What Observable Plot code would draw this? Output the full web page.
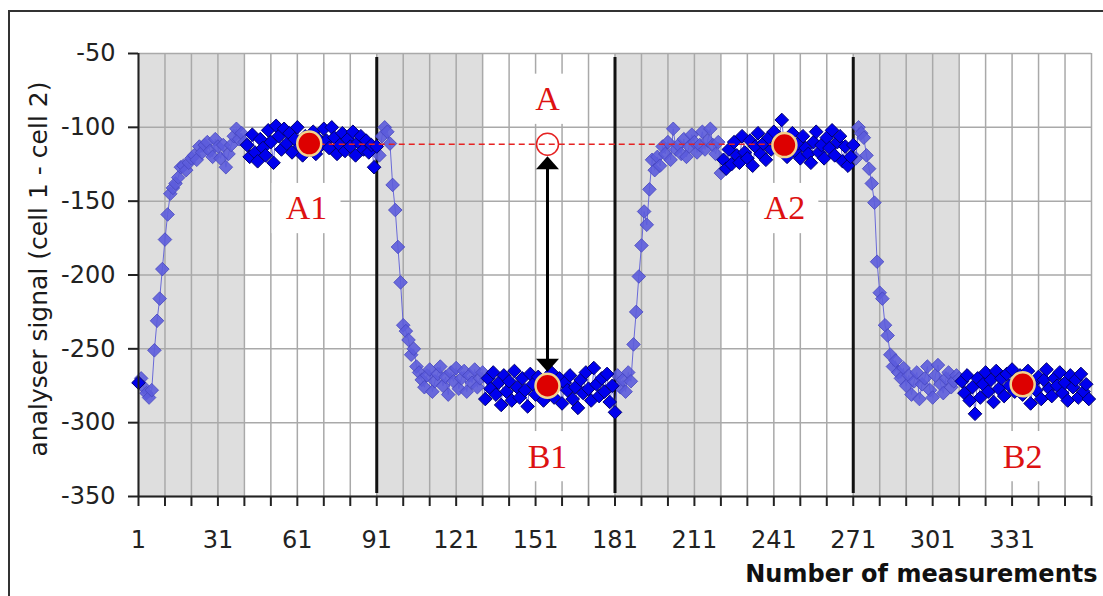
<!DOCTYPE html>
<html><head><meta charset="utf-8">
<script src="https://cdn.jsdelivr.net/npm/d3@7"></script>
<script src="https://cdn.jsdelivr.net/npm/@observablehq/plot@0.6"></script>
<style>
html,body{margin:0;padding:0;background:#fff;overflow:hidden;}
#wrap{position:relative;width:1103px;height:596px;}
#frame{position:absolute;left:8px;top:10px;width:1200px;height:700px;border:2px solid #333;box-sizing:border-box;}
#chart{position:absolute;left:0;top:0;}
</style></head><body>
<div id="wrap"><div id="frame"></div><div id="chart"></div></div>
<script>
// ---- data (analyser signal per measurement) ----
const rise1 = [-273,-270,-276,-280,-283,-278,-251,-231,-216,-196,
  -176,-159,-145,-141,-138,-134,-127,-126,-129,-124,
  -121,-119,-122,-113,-117,-112,-110,-116,-120,-108,
  -113,-121,-112,-127,-118,-112,-106,-101,-108,-104,
  -110];
const high1 = [-112,-120,-105,-117,-123,-108,-114,-119,-102,
  -110,-124,-99,-106,-115,-101,-111,-104,-117,-108,
  -100,-113,-119,-106,-110,-115,-103,-118,-108,-112,
  -101,-109,-114,-100,-107,-118,-112,-104,-116,-108,
  -113,-103,-119,-110,-106,-115,-109,-117,-112,-127];
const fall1 = [-113,-119,-106,-100,-103,-111,-139,-156,-181,-205,
  -234,-238,-244,-254,-250,-262,-266,-271,-276,-268,
  -264,-279,-272,-267,-262,-275,-269,-281,-266,-272,
  -263,-277,-270,-265,-279,-268,-273,-264,-276,-270,
  -266];
const low1 = [-284,-270,-277,-266,-281,-273,-288,-268,-279,
  -272,-285,-265,-276,-283,-270,-278,-289,-267,-274,
  -281,-269,-277,-285,-272,-279,-266,-283,-275,-270,
  -287,-273,-278,-268,-284,-276,-290,-271,-280,-266,
  -277,-285,-263,-274,-282,-270,-279,-267,-286,-275];
const rise2 = [-293,-268,-276,-271,-279,-266,-272,-247,-225,-201,
  -180,-157,-166,-142,-122,-129,-120,-126,-113,-118,
  -110,-122,-101,-115,-112,-118,-108,-120,-113,-105,
  -110,-117,-112,-103,-115,-109,-101,-112,-118,-110,
  -131];
const high2 = [-122,-128,-115,-125,-110,-119,-124,-106,-117,
  -121,-109,-126,-113,-104,-118,-111,-122,-107,-115,
  -103,-112,-108,-95,-113,-120,-109,-104,-116,-111,
  -121,-106,-114,-118,-124,-110,-103,-117,-112,-121,
  -107,-114,-102,-119,-110,-106,-123,-113,-126,-120];
const fall2 = [-112,-121,-100,-104,-107,-119,-128,-138,-151,-191,
  -212,-216,-234,-241,-254,-262,-258,-266,-270,-263,
  -275,-268,-281,-272,-266,-284,-274,-270,-262,-278,
  -283,-268,-261,-274,-280,-270,-266,-276,-272,-268,
  -270];
const low2 = [-272,-280,-268,-285,-276,-294,-270,-283,-274,
  -266,-279,-271,-286,-265,-277,-270,-282,-267,-275,
  -264,-279,-272,-268,-281,-276,-265,-287,-273,-278,
  -269,-284,-271,-264,-277,-282,-270,-275,-266,-280,
  -273,-285,-268,-276,-271,-283,-267,-279,-274,-284];

// shaded (transient) ranges and switching points
const bands = [[1,41],[91,131],[181,221],[271,311]];
const switches = [91,181,271];

// axis ticks
const xDomain = [1,361];
const yDomain = [-350,-50];
const xGridTicks = [1,11,21,31,41,51,61,71,81,91,101,111,121,131,141,151,161,171,181,191,201,211,221,231,241,251,261,271,281,291,301,311,321,331,341,351,361];
const xLabels = [1,31,61,91,121,151,181,211,241,271,301,331];
const yTicks = [-350,-300,-250,-200,-150,-100,-50];

// mean values (red circles) and labels
const means = [
  {name:"A1", m:65.5, v:-111},
  {name:"B1", m:155.5, v:-275},
  {name:"A2", m:245, v:-112},
  {name:"B2", m:335, v:-274}
];
const labels = [
  {text:"A", m:155.5, v:-81},
  {text:"A1", m:64.5, v:-155},
  {text:"A2", m:245, v:-155},
  {text:"B1", m:155.5, v:-323},
  {text:"B2", m:335, v:-323}
];

const signal = [].concat(rise1, high1, fall1, low1, rise2, high2, fall2, low2);
const data = signal.map((v, i) => {
  const m = i + 1;
  const transient = bands.some(([a, b]) => m > a && m <= b);
  return {m, v, transient};
});
const A1 = means[0], B1 = means[1], A2 = means[2];
const level = d3.mean([A1.v, A2.v]);

const diamond = {draw(ctx, size) { const h = Math.sqrt(size / Math.PI); ctx.moveTo(0,-h); ctx.lineTo(h,0); ctx.lineTo(0,h); ctx.lineTo(-h,0); ctx.closePath(); }};
const headUp = {draw(ctx) { ctx.moveTo(0,12); ctx.lineTo(-11.5,25); ctx.lineTo(11.5,25); ctx.closePath(); }};
const headDown = {draw(ctx) { ctx.moveTo(0,-14); ctx.lineTo(-11.5,-27); ctx.lineTo(11.5,-27); ctx.closePath(); }};

const chart = Plot.plot({
  width: 1103, height: 596,
  marginLeft: 138, marginRight: 12, marginTop: 53, marginBottom: 100,
  x: {domain: xDomain, label: null},
  y: {domain: yDomain, label: null},
  style: {fontFamily: "'DejaVu Sans', sans-serif", fontSize: "24px", color: "#222", background: "transparent", overflow: "visible"},
  marks: [
    Plot.rect(bands, {x1: d => d[0], x2: d => d[1], y1: yDomain[0], y2: yDomain[1], fill: "#dedede"}),
    Plot.ruleX(xGridTicks, {stroke: "#a9a9a9", strokeWidth: 1.5}),
    Plot.ruleY(yTicks, {stroke: "#a9a9a9", strokeWidth: 1.5}),
    Plot.rect(labels, {x1: d => d.m - 13, x2: d => d.m + 13, y1: d => d.v - 17, y2: d => d.v + 17, fill: "white"}),
    Plot.ruleX(switches, {stroke: "#111", strokeWidth: 3, insetTop: 4, insetBottom: 3}),
    Plot.line(data, {x: "m", y: "v", stroke: "#6a6ad8", strokeWidth: 1}),
    Plot.dot(data.filter(d => d.transient), {x: "m", y: "v", r: 6.8, symbol: diamond, fill: "#5c5cdc", fillOpacity: 0.9, stroke: "#4545bf", strokeWidth: 0.8}),
    Plot.dot(data.filter(d => !d.transient), {x: "m", y: "v", r: 6.8, symbol: diamond, fill: "#0000ee", stroke: "#00006e", strokeWidth: 1}),
    Plot.ruleY([level], {x1: A1.m, x2: A2.m, stroke: "#e52222", strokeWidth: 1.5, strokeDasharray: "6,4"}),
    Plot.dot(means, {x: "m", y: "v", r: 12, fill: "#dd0000", stroke: "#f2d28c", strokeWidth: 2.5}),
    Plot.dot([{m: B1.m, v: level}], {x: "m", y: "v", r: 11, fill: "none", stroke: "#e52222", strokeWidth: 1.5}),
    Plot.ruleX([B1.m], {y1: level, y2: B1.v, stroke: "#000", strokeWidth: 3, insetTop: 22, insetBottom: 24}),
    Plot.dot([{m: B1.m, v: level}], {x: "m", y: "v", r: 5, symbol: headUp, fill: "#000", stroke: "none"}),
    Plot.dot([{m: B1.m, v: B1.v}], {x: "m", y: "v", r: 5, symbol: headDown, fill: "#000", stroke: "none"}),
    Plot.text(labels, {x: "m", y: "v", text: "text", fill: "#dd1111", fontFamily: "'Liberation Serif', serif", fontSize: 34}),
    Plot.ruleX([xDomain[0]], {stroke: "#222", strokeWidth: 2}),
    Plot.ruleY([yDomain[0]], {stroke: "#222", strokeWidth: 2}),
    Plot.axisY(yTicks, {tickSize: 10, tickPadding: 13, tickFormat: d => String(d), fontSize: 24, strokeWidth: 2, label: null}),
    Plot.axisX(xGridTicks, {tickSize: 10, tickPadding: 24, tickFormat: d => xLabels.includes(d) ? String(d) : "", fontSize: 24, strokeWidth: 2, label: null}),
    Plot.text(["analyser signal (cell 1 - cell 2)"], {frameAnchor: "left", textAnchor: "middle", rotate: -90, dx: -100, dy: -6, fontSize: 25, fill: "#1a1a1a"}),
    Plot.text(["Number of measurements"], {frameAnchor: "bottom-right", textAnchor: "end", dx: 6, dy: 85, fontSize: 24, fontWeight: "bold", fill: "#111"})
  ]
});
document.getElementById("chart").appendChild(chart);
</script>
</body></html>
